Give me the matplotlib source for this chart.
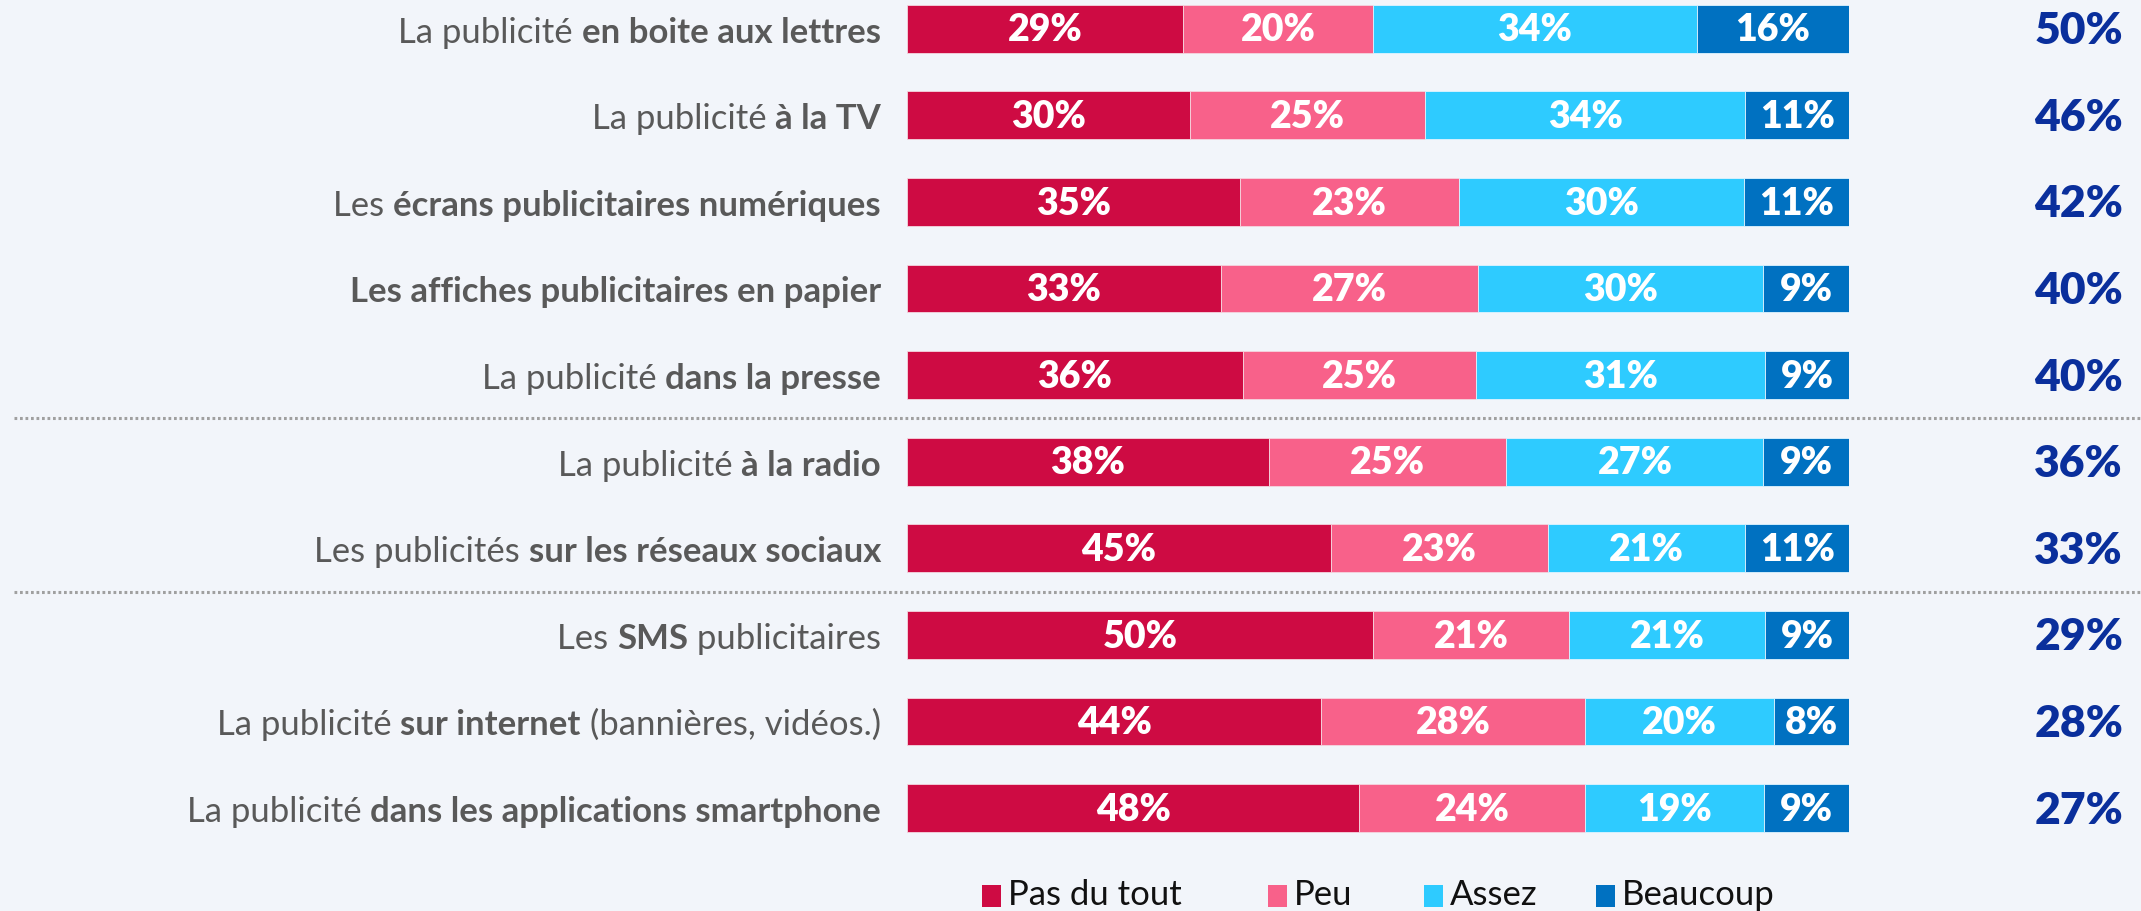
import matplotlib
matplotlib.use('Agg')
import matplotlib.pyplot as plt
import numpy as np
from matplotlib.patches import Rectangle
from matplotlib.transforms import blended_transform_factory, IdentityTransform

# ---------------- data ----------------
label_pre = ["La publicité ", "La publicité ", "Les ", "", "La publicité ",
             "La publicité ", "Les publicités ", "Les ", "La publicité ", "La publicité "]
label_bold = ["en boite aux lettres", "à la TV", "écrans publicitaires numériques",
              "Les affiches publicitaires en papier", "dans la presse", "à la radio",
              "sur les réseaux sociaux", "SMS", "sur internet",
              "dans les applications smartphone"]
label_post = ["", "", "", "", "", "", "", " publicitaires", " (bannières, vidéos.)", ""]

pas_du_tout = [29, 30, 35, 33, 36, 38, 45, 50, 44, 48]
peu = [20, 25, 23, 27, 25, 25, 23, 21, 28, 24]
assez = [34, 34, 30, 30, 31, 27, 21, 21, 20, 19]
beaucoup = [16, 11, 11, 9, 9, 9, 11, 9, 8, 9]
totals = [50, 46, 42, 40, 40, 36, 33, 29, 28, 27]
series_names = ["Pas du tout", "Peu", "Assez", "Beaucoup"]
separators_after = [4, 6]

# ---------------- style ----------------
BG = '#F2F5FA'
colors = ['#CE0B43', '#F8618A', '#2ECBFF', '#0071C1']
label_color = '#595959'
total_color = '#0A2F9C'
FONT = ['Lato', 'DejaVu Sans']

W, H = 2141, 911
fig = plt.figure(figsize=(W / 100, H / 100), dpi=100, facecolor=BG)
bar_left_px, bar_right_px = 907, 1849
ax = fig.add_axes([bar_left_px / W, 0, (bar_right_px - bar_left_px) / W, 1])
ax.set_facecolor(BG)
ax.axis('off')
ax.set_xlim(0, 100)
row0_px, step_px = 28.7, 86.6
ax.set_ylim(9 + (H - (row0_px + 9 * step_px)) / step_px, -row0_px / step_px)

series = [pas_du_tout, peu, assez, beaucoup]
data = np.array(series, dtype=float)
rowsum = data.sum(axis=0)
y = np.arange(len(label_bold))
left = np.zeros(len(y))
for i, vals in enumerate(series):
    w = np.array(vals) / rowsum * 100
    ax.barh(y, w, left=left, height=0.55, color=colors[i],
            edgecolor='#F4D6DF' if i < 2 else '#E0F4FF', linewidth=0.6,
            label=series_names[i])
    for yy, l, ww, v in zip(y, left, w, vals):
        ax.text(l + ww / 2, yy + 0.02, f"{v}%", ha='center', va='center',
                color='white', fontsize=27, fontweight='heavy', family=FONT)
    left = left + w

trans = blended_transform_factory(IdentityTransform(), ax.transData)

# totals
for yy, t in zip(y, totals):
    ax.text(2123, yy + 0.03, f"{t}%", transform=trans, ha='right', va='center',
            color=total_color, fontsize=32, fontweight='heavy', family=FONT,
            clip_on=False)

# separators
for s in separators_after:
    ax.plot([14, W], [s + 0.5, s + 0.5], transform=trans, clip_on=False,
            color='#A0A0A0', lw=2.2, ls=(0, (0.9, 0.9)))

# mixed-weight labels
renderer = fig.canvas.get_renderer()
label_right_px = 881
for yy, pre, bold, post in zip(y, label_pre, label_bold, label_post):
    segs = [(pre, 'normal'), (bold, 'bold'), (post, 'normal')]
    xr = label_right_px
    for txt, wt in reversed(segs):
        if not txt:
            continue
        t = ax.text(xr, yy + 0.16, txt, transform=trans, ha='right', va='baseline',
                    color=label_color, fontsize=25, fontweight=wt, family=FONT,
                    clip_on=False)
        bb = t.get_window_extent(renderer)
        xr = bb.x0

# legend (manual, positioned in pixels)
legend_x = [982, 1268, 1424, 1596]
sq_w, sq_h = 19, 22
sq_bottom = 4
for name, c, lx in zip(series_names, colors, legend_x):
    fig.add_artist(Rectangle((lx, sq_bottom), sq_w, sq_h, transform=IdentityTransform(),
                             facecolor=c, edgecolor='none'))
    fig.text(lx + sq_w + 7, sq_bottom + 2, name, transform=IdentityTransform(),
             ha='left', va='baseline', fontsize=25, family=FONT, color='#111111')

fig.savefig('out.png', dpi=100, facecolor=BG)
